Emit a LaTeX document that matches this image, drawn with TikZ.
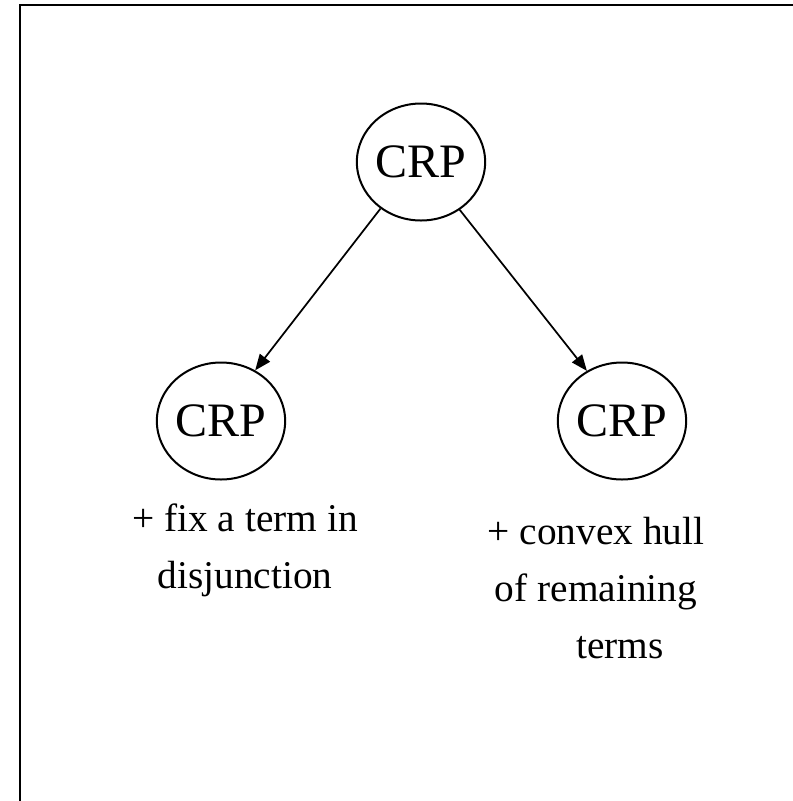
\documentclass[tikz,border=0pt]{standalone}
\usepackage{fontspec}
\setmainfont{Liberation Serif}
\usetikzlibrary{shapes.geometric,arrows.meta}
\begin{document}
\begin{tikzpicture}[x=0.75pt,y=-0.75pt,
  crp/.style={ellipse,draw,line width=1.5pt,minimum width=96pt,minimum height=87.75pt,inner sep=0pt,font=\fontsize{36}{43}\selectfont},
  lbl/.style={align=center,inner sep=0pt,anchor=base,font=\fontsize{29.5}{42.5}\selectfont},
  conn/.style={line width=1.3pt,-{Triangle[length=12pt,width=9.5pt]}}]
\useasboundingbox (0,0) rectangle (793,801);
\draw[line width=2pt] (20,805) -- (20,5) -- (797,5);
\node[crp] (top) at (421,162) {CRP};
\node[crp] (left) at (221,421) {CRP};
\node[crp] (right) at (622,421) {CRP};
\draw[conn] (top.229) -- (left.56);
\draw[conn] (top.309) -- (right.125);
\node[lbl] (leftlbl) at (245,588) {+ fix a term in\\disjunction};
\node[lbl] (rightlbl) at (596,658) {+ convex hull\\of remaining\\\hspace*{36pt}terms};
\end{tikzpicture}
\end{document}
